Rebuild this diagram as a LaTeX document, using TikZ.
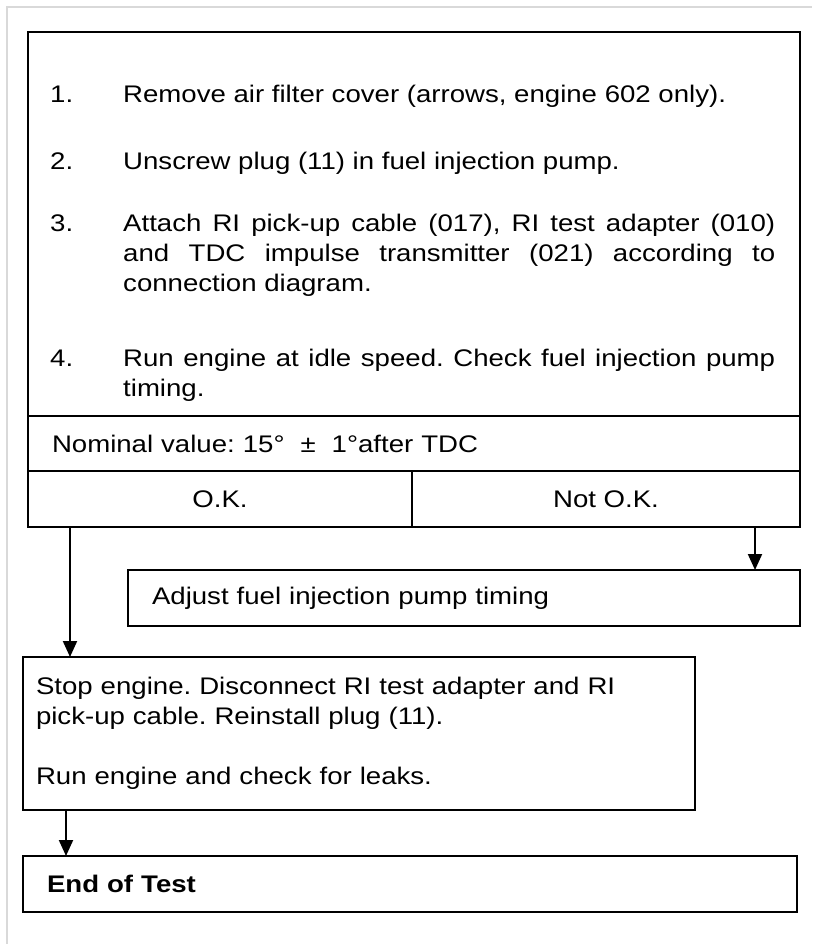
\documentclass[tikz,border=0pt]{standalone}
\usepackage{fontspec}
\setmainfont{Liberation Sans}[FakeStretch=1.15]
\usetikzlibrary{arrows.meta,positioning}
\hyphenpenalty=10000
\exhyphenpenalty=10000
\tolerance=9999
\frenchspacing
\tikzset{
  box/.style={draw, line width=2pt, outer sep=0pt, inner sep=0pt, anchor=north west},
  txt/.style={font=\fontsize{24}{30}\selectfont, inner sep=0pt},
  bold/.style={font=\fontsize{24}{30}\selectfont\bfseries},
  num/.style={txt, anchor=base west},
  steptxt/.style={txt, anchor=base west, text width=652pt, align=justify},
  flow/.style={-{Triangle[length=16pt, width=14pt]}, line width=2pt},
  frame/.style={draw=black!15, line width=1.2pt},
}
\begin{document}
\begin{tikzpicture}[x=1pt, y=-1pt]
  \useasboundingbox (0,0) rectangle (812,944);
  \draw[frame] (7,944) -- (7,7) -- (812,7);
  % test steps
  \node[box, minimum width=772pt, minimum height=384pt] (steps) at (28,32) {};
  \node[num] (n1) at (50,103) {1.};
  \node[steptxt] (s1) at (123,103) {Remove air filter cover (arrows, engine 602 only).};
  \node[num] (n2) at (50,170) {2.};
  \node[steptxt] (s2) at (123,170) {Unscrew plug (11) in fuel injection pump.};
  \node[num] (n3) at (50,231) {3.};
  \node[steptxt] (s3) at (123,231) {Attach RI pick-up cable (017), RI test adapter (010) and TDC impulse transmitter (021) according to connection diagram.};
  \node[num] (n4) at (50,366) {4.};
  \node[steptxt] (s4) at (123,366) {Run engine at idle speed. Check fuel injection pump timing.};
  % result rows
  \node[box, txt, minimum width=772pt, minimum height=55pt, text width=724pt, inner xsep=24pt, align=left,
        below right=0pt and 0pt of steps.south west] (nominal) {Nominal value: 15°\ \ ±\ \ 1°after TDC};
  \node[box, txt, minimum width=384pt, minimum height=56pt,
        below right=0pt and 0pt of nominal.south west] (ok) {O.K.};
  \node[box, txt, minimum width=388pt, minimum height=56pt, right=0pt of ok] (notok) {Not O.K.};
  % actions
  \node[box, txt, minimum width=672pt, minimum height=56pt, text width=624pt, inner xsep=24pt, align=left]
    (adjust) at (128,570) {Adjust\ fuel\ injection\ pump\ timing};
  \node[box, txt, minimum width=672pt, minimum height=153pt, text width=646pt, inner xsep=13pt, align=left]
    (stop) at (23,657) {Stop engine. Disconnect RI test adapter and RI\\pick-up cable. Reinstall plug (11).\\[30pt]Run engine and check for leaks.};
  \node[box, txt, bold, minimum width=774pt, minimum height=56pt, text width=726pt, inner xsep=24pt, align=left]
    (endtest) at (23,856) {End of Test};
  % connectors
  \draw[flow] ([xshift=42pt]ok.south west) -- ([xshift=47pt]stop.north west);
  \draw[flow] ([xshift=-45pt]notok.south east) -- ([xshift=-45pt]adjust.north east);
  \draw[flow] ([xshift=43pt]stop.south west) -- ([xshift=43pt]endtest.north west);
\end{tikzpicture}
\end{document}
